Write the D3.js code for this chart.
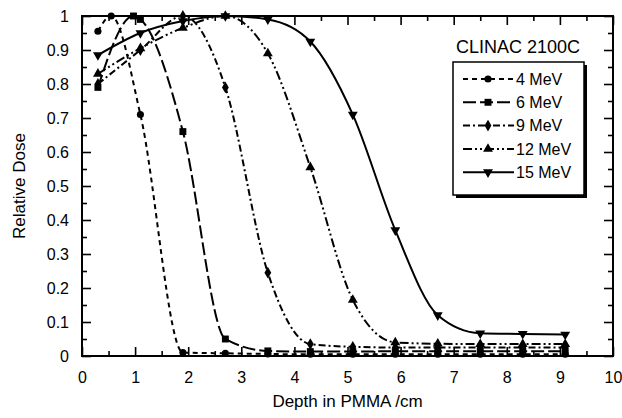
<!DOCTYPE html>
<html>
<head>
<meta charset="utf-8">
<script src="https://cdn.jsdelivr.net/npm/d3@7"></script>
<style>
	html, body { margin: 0; padding: 0; background: #fff; }
	svg { display: block; font-family: 'Liberation Sans', Arial, Helvetica, sans-serif; }
</style>
</head>
<body>
<svg id="chart" width="622" height="418"></svg>
<script>
// depths (cm PMMA) and relative dose
const depths = [0.3, 1.1, 1.9, 2.7, 3.5, 4.3, 5.1, 5.9, 6.7, 7.5, 8.3, 9.1];

const depth4 = [0.3, 0.55, 1.1, 1.9, 2.7, 3.5, 4.3, 5.1, 5.9, 6.7, 7.5, 8.3, 9.1];
const dose4 = [0.955, 1.0, 0.71, 0.01, 0.008, 0.006, 0.005, 0.005, 0.005, 0.005, 0.005, 0.005, 0.005];

const depth6 = [0.3, 0.97, 1.1, 1.9, 2.7, 3.5, 4.3, 5.1, 5.9, 6.7, 7.5, 8.3, 9.1];
const dose6 = [0.79, 1.0, 0.99, 0.66, 0.05, 0.015, 0.013, 0.013, 0.014, 0.014, 0.014, 0.014, 0.014];

const dose9 = [0.8, 0.9, 1.0, 0.79, 0.245, 0.035, 0.027, 0.025, 0.025, 0.025, 0.025, 0.025];
const dose12 = [0.83, 0.905, 0.965, 1.0, 0.89, 0.555, 0.165, 0.04, 0.036, 0.035, 0.035, 0.035];
const dose15 = [0.885, 0.95, 0.985, 1.0, 0.99, 0.925, 0.71, 0.37, 0.12, 0.067, 0.065, 0.063];

const labels = ['4 MeV', '6 MeV', '9 MeV', '12 MeV', '15 MeV'];
const xTicks = [0, 1, 2, 3, 4, 5, 6, 7, 8, 9, 10];
const yTicks = [0, 0.1, 0.2, 0.3, 0.4, 0.5, 0.6, 0.7, 0.8, 0.9, 1];

const series = [
	{ name: labels[0], x: depth4, y: dose4, dash: '5,4', symbol: d3.symbolCircle, size: 40, rot: 0 },
	{ name: labels[1], x: depth6, y: dose6, dash: '13,4', symbol: d3.symbolSquare, size: 48, rot: 0 },
	{ name: labels[2], x: depths, y: dose9, dash: '7,3,2,3', symbol: d3.symbolDiamond, size: 40, rot: 0 },
	{ name: labels[3], x: depths, y: dose12, dash: '9,3,2,3,2,3', symbol: d3.symbolTriangle, size: 42, rot: 0 },
	{ name: labels[4], x: depths, y: dose15, dash: null, symbol: d3.symbolTriangle, size: 42, rot: 180 }
];

const margin = { top: 16, right: 9, bottom: 62, left: 82 };
const W = 622;
const H = 418;
const width = W - margin.left - margin.right;
const height = H - margin.top - margin.bottom;

const $svg = d3.select('#chart');
const $g = $svg.append('g').attr('transform', `translate(${margin.left},${margin.top})`);

const x = d3.scaleLinear().domain([0, 10]).range([0, width]);
const y = d3.scaleLinear().domain([0, 1]).range([height, 0]);

const minorX = d3.range(0.5, 10, 1);
const minorY = d3.range(0.05, 1, 0.1);

function styleAxis(sel) {
	sel.select('.domain').remove();
	sel.selectAll('line').attr('stroke', '#000').attr('stroke-width', 1.6);
	sel.selectAll('text').attr('fill', '#000').style('font-size', '16px');
}

// bottom
$g.append('g').attr('transform', `translate(0,${height})`)
	.call(d3.axisBottom(x).tickValues(xTicks).tickFormat(d3.format('d')).tickSize(-9).tickPadding(16))
	.call(styleAxis);
$g.append('g').attr('transform', `translate(0,${height})`)
	.call(d3.axisBottom(x).tickValues(minorX).tickFormat('').tickSize(-5))
	.call(styleAxis);
// top
$g.append('g')
	.call(d3.axisTop(x).tickValues(xTicks).tickFormat('').tickSize(-9))
	.call(styleAxis);
$g.append('g')
	.call(d3.axisTop(x).tickValues(minorX).tickFormat('').tickSize(-5))
	.call(styleAxis);
// left
$g.append('g')
	.call(d3.axisLeft(y).tickValues(yTicks).tickFormat(d3.format('~g')).tickSize(-9).tickPadding(13))
	.call(styleAxis);
$g.append('g')
	.call(d3.axisLeft(y).tickValues(minorY).tickFormat('').tickSize(-5))
	.call(styleAxis);
// right
$g.append('g').attr('transform', `translate(${width},0)`)
	.call(d3.axisRight(y).tickValues(yTicks).tickFormat('').tickSize(-9))
	.call(styleAxis);
$g.append('g').attr('transform', `translate(${width},0)`)
	.call(d3.axisRight(y).tickValues(minorY).tickFormat('').tickSize(-5))
	.call(styleAxis);

$g.append('rect')
	.attr('width', width).attr('height', height)
	.attr('fill', 'none').attr('stroke', '#000').attr('stroke-width', 2);

const line = d3.line()
	.x(d => x(d[0]))
	.y(d => y(d[1]))
	.curve(d3.curveMonotoneX);

series.forEach(s => {
	const pts = s.x.map((d, i) => [d, s.y[i]]);
	$g.append('path')
		.datum(pts)
		.attr('d', line)
		.attr('fill', 'none')
		.attr('stroke', '#000')
		.attr('stroke-width', 2)
		.attr('stroke-dasharray', s.dash);
	$g.selectAll(null)
		.data(pts)
		.enter()
		.append('path')
		.attr('d', d3.symbol().type(s.symbol).size(s.size))
		.attr('transform', d => `translate(${x(d[0])},${y(d[1])}) rotate(${s.rot})`)
		.attr('fill', '#000');
});

// title in the corner
$svg.append('text')
	.attr('x', 518).attr('y', 53)
	.attr('text-anchor', 'middle')
	.style('font-size', '18px')
	.text('CLINAC 2100C');

// legend with drop shadow
const lg = { x: 453, y: 62, w: 131, h: 133 };
$svg.append('rect')
	.attr('x', lg.x + 3).attr('y', lg.y + 3).attr('width', lg.w).attr('height', lg.h)
	.attr('fill', '#000');
$svg.append('rect')
	.attr('x', lg.x).attr('y', lg.y).attr('width', lg.w).attr('height', lg.h)
	.attr('fill', '#fff').attr('stroke', '#000').attr('stroke-width', 1.5);

const $legend = $svg.selectAll('.legend-item')
	.data(series)
	.enter()
	.append('g')
	.attr('class', 'legend-item')
	.attr('transform', (d, i) => `translate(463,${79 + i * 23.3})`);

$legend.append('line')
	.attr('x1', 0).attr('x2', 51)
	.attr('stroke', '#000').attr('stroke-width', 2)
	.attr('stroke-dasharray', d => d.dash);
$legend.append('path')
	.attr('d', d => d3.symbol().type(d.symbol).size(d.size)())
	.attr('transform', d => `translate(25,0) rotate(${d.rot})`);
$legend.append('text')
	.attr('x', 53).attr('dy', '0.36em')
	.style('font-size', '16px')
	.text(d => d.name);

// axis titles
$svg.append('text')
	.attr('x', margin.left + width / 2).attr('y', 407)
	.attr('text-anchor', 'middle')
	.style('font-size', '17px')
	.text('Depth in PMMA /cm');
$svg.append('text')
	.attr('transform', `translate(25,${margin.top + height / 2}) rotate(-90)`)
	.attr('text-anchor', 'middle')
	.style('font-size', '17px')
	.text('Relative Dose');
</script>
</body>
</html>
